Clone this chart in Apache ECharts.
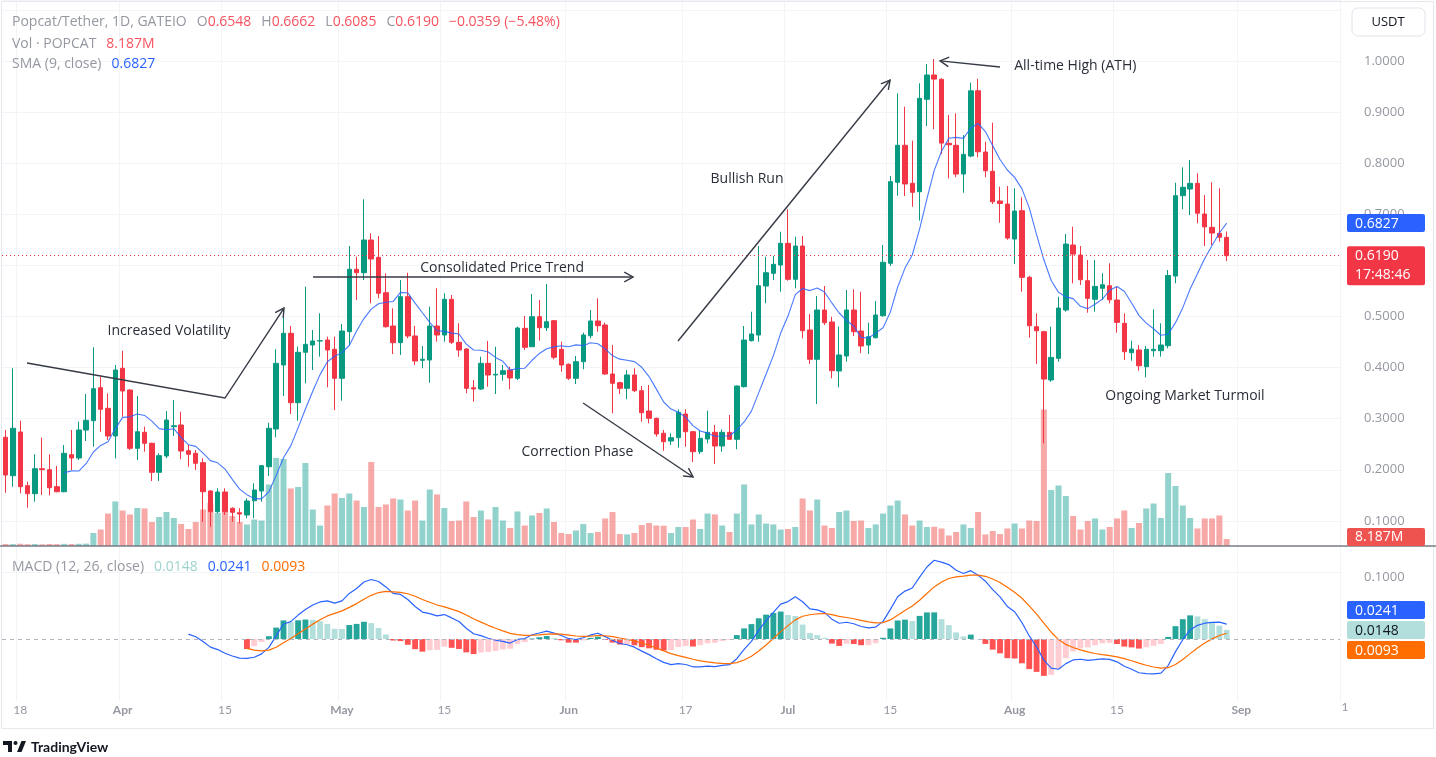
<!DOCTYPE html>
<html>
<head>
<meta charset="utf-8">
<title>Popcat/Tether, 1D, GATEIO</title>
<script src="https://cdn.jsdelivr.net/npm/echarts@6/dist/echarts.min.js"></script>
<style>
html, body { margin: 0; padding: 0; background: #fff; }
#main { width: 1436px; height: 757px; }
</style>
</head>
<body>
<div id="main"></div>
<script>
// daily candles 2024-03-16 .. 2024-08-30
var opens = [
  0.2636, 0.1884, 0.2739, 0.1689, 0.1532, 0.2021, 0.2002, 0.1669, 0.1571, 0.2295,
  0.2231, 0.2778, 0.2960, 0.3606, 0.3203, 0.2661, 0.3986, 0.3561, 0.2420, 0.2733,
  0.2518, 0.1951, 0.2270, 0.2843, 0.2876, 0.2373, 0.2322, 0.2139, 0.1585, 0.1180,
  0.1565, 0.1246, 0.1160, 0.1115, 0.1395, 0.1585, 0.2060, 0.2798, 0.4050, 0.4670,
  0.3313, 0.4299, 0.4441, 0.4520, 0.4539, 0.4357, 0.3790, 0.4702, 0.5923, 0.5856,
  0.6496, 0.6157, 0.5465, 0.4813, 0.4487, 0.5387, 0.4618, 0.4142, 0.4148, 0.4813,
  0.4637, 0.5336, 0.4494, 0.4363, 0.3606, 0.3581, 0.4083, 0.3855, 0.3868, 0.3952,
  0.3790, 0.4768, 0.4408, 0.4995, 0.4780, 0.4917, 0.4357, 0.4064, 0.3790, 0.4115,
  0.4623, 0.4911, 0.4833, 0.3874, 0.3704, 0.3594, 0.3855, 0.3547, 0.3150, 0.3007,
  0.2714, 0.2563, 0.2628, 0.3091, 0.2745, 0.2354, 0.2602, 0.2733, 0.2465, 0.2733,
  0.2596, 0.3626, 0.4526, 0.4637, 0.5596, 0.5844, 0.6007, 0.6431, 0.5727, 0.6378,
  0.4735, 0.4162, 0.5126, 0.4892, 0.3933, 0.4226, 0.5126, 0.4715, 0.4441, 0.4584,
  0.5015, 0.6040, 0.7625, 0.8349, 0.7605, 0.7441, 0.9249, 0.9724, 0.9640, 0.8388,
  0.8349, 0.7787, 0.8139, 0.9417, 0.8218, 0.7840, 0.7259, 0.7200, 0.6515, 0.7069,
  0.5766, 0.4800, 0.4702, 0.3757, 0.4181, 0.5126, 0.6398, 0.6202, 0.5700, 0.5336,
  0.5551, 0.5602, 0.5322, 0.4866, 0.4291, 0.4344, 0.4017, 0.4330, 0.4330, 0.4428,
  0.5791, 0.7363, 0.7494, 0.7605, 0.7005, 0.6744, 0.6627, 0.6548
];
var highs = [
  0.2778, 0.3986, 0.2960, 0.1767, 0.2303, 0.2628, 0.2303, 0.2074, 0.2485, 0.2778,
  0.2941, 0.3483, 0.4396, 0.3821, 0.3496, 0.4050, 0.4330, 0.3575, 0.3444, 0.2843,
  0.2530, 0.2322, 0.3150, 0.3365, 0.3136, 0.2485, 0.2387, 0.2225, 0.1600, 0.1638,
  0.1638, 0.1266, 0.1246, 0.1442, 0.1735, 0.2095, 0.2921, 0.4357, 0.5160, 0.4813,
  0.4408, 0.5582, 0.4735, 0.5062, 0.4604, 0.4604, 0.4852, 0.6378, 0.6169, 0.7292,
  0.6627, 0.6574, 0.5844, 0.5160, 0.5713, 0.5856, 0.4813, 0.4422, 0.5191, 0.5551,
  0.5453, 0.5420, 0.4866, 0.4380, 0.3757, 0.4213, 0.4520, 0.4408, 0.4050, 0.4017,
  0.4800, 0.5009, 0.5439, 0.5322, 0.5635, 0.4930, 0.4506, 0.4080, 0.4226, 0.4682,
  0.5126, 0.5355, 0.4878, 0.4441, 0.3723, 0.3952, 0.3986, 0.3639, 0.3659, 0.3020,
  0.2778, 0.2714, 0.3183, 0.3183, 0.2760, 0.2778, 0.3156, 0.2876, 0.2792, 0.3072,
  0.3650, 0.4813, 0.5093, 0.6378, 0.6169, 0.6183, 0.6658, 0.7096, 0.6560, 0.6574,
  0.5048, 0.5400, 0.5596, 0.4995, 0.4800, 0.5518, 0.5531, 0.5484, 0.4878, 0.5302,
  0.6398, 0.7748, 0.9366, 0.9104, 0.8439, 0.9562, 0.9940, 1.0037, 0.9660, 0.8942,
  0.8975, 0.8550, 0.9574, 0.9652, 0.8419, 0.8791, 0.7539, 0.7552, 0.7508, 0.7331,
  0.5792, 0.5062, 0.4720, 0.4800, 0.5387, 0.6613, 0.6756, 0.6378, 0.6105, 0.6105,
  0.5844, 0.6040, 0.5582, 0.5062, 0.4526, 0.4441, 0.4422, 0.5140, 0.4866, 0.5909,
  0.7617, 0.7918, 0.8061, 0.7801, 0.7376, 0.7625, 0.7508, 0.6662
];
var lows = [
  0.1552, 0.1669, 0.1540, 0.1258, 0.1375, 0.1507, 0.1501, 0.1560, 0.1560, 0.1996,
  0.2191, 0.2563, 0.2452, 0.2745, 0.2583, 0.2225, 0.3039, 0.2387, 0.2191, 0.2354,
  0.1780, 0.1780, 0.2225, 0.2661, 0.2205, 0.2060, 0.1996, 0.0984, 0.0886, 0.1149,
  0.1115, 0.0984, 0.0953, 0.1051, 0.1051, 0.1375, 0.1878, 0.2636, 0.3444, 0.3091,
  0.2960, 0.3692, 0.3952, 0.4213, 0.3614, 0.3170, 0.3352, 0.4441, 0.5322, 0.5713,
  0.5257, 0.5355, 0.4780, 0.4265, 0.4246, 0.4573, 0.4050, 0.3986, 0.3704, 0.4506,
  0.4506, 0.4461, 0.4213, 0.3496, 0.3332, 0.3561, 0.3626, 0.3483, 0.3743, 0.3575,
  0.3757, 0.4344, 0.4408, 0.4526, 0.4715, 0.4160, 0.3919, 0.3757, 0.3678, 0.3966,
  0.4573, 0.4702, 0.3860, 0.3105, 0.3483, 0.3379, 0.3520, 0.2941, 0.2909, 0.2647,
  0.2373, 0.2485, 0.2432, 0.2452, 0.2152, 0.2309, 0.2518, 0.2113, 0.2354, 0.2583,
  0.2401, 0.3610, 0.4510, 0.4506, 0.5257, 0.5713, 0.5484, 0.5700, 0.5551, 0.4573,
  0.4070, 0.3287, 0.4833, 0.3790, 0.3614, 0.4115, 0.4618, 0.4279, 0.4265, 0.4573,
  0.4995, 0.5987, 0.7363, 0.7357, 0.7147, 0.6874, 0.8726, 0.8662, 0.8178, 0.7703,
  0.7723, 0.7421, 0.8114, 0.8114, 0.7723, 0.7200, 0.6834, 0.6500, 0.6026, 0.5484,
  0.4584, 0.4070, 0.2518, 0.3720, 0.4115, 0.5093, 0.5649, 0.5615, 0.5073, 0.5093,
  0.5322, 0.5257, 0.4682, 0.4148, 0.4134, 0.3939, 0.3809, 0.4213, 0.4213, 0.4377,
  0.5649, 0.7096, 0.6985, 0.6823, 0.6378, 0.6398, 0.6463, 0.6085
];
var closes = [
  0.1898, 0.2812, 0.1669, 0.1532, 0.2021, 0.2002, 0.1649, 0.1571, 0.2322, 0.2231,
  0.2778, 0.2968, 0.3586, 0.3183, 0.2661, 0.3952, 0.3541, 0.2420, 0.2745, 0.2518,
  0.1951, 0.2276, 0.2974, 0.2862, 0.2367, 0.2303, 0.2127, 0.1571, 0.1180, 0.1565,
  0.1180, 0.1168, 0.1135, 0.1389, 0.1604, 0.2080, 0.2812, 0.4083, 0.4670, 0.3313,
  0.4299, 0.4455, 0.4520, 0.4526, 0.4344, 0.3790, 0.4715, 0.5923, 0.5856, 0.6496,
  0.6124, 0.5453, 0.4800, 0.4487, 0.5387, 0.4618, 0.4128, 0.4162, 0.4813, 0.4637,
  0.5336, 0.4494, 0.4344, 0.3594, 0.3581, 0.4083, 0.3855, 0.3868, 0.3939, 0.3796,
  0.4774, 0.4396, 0.4995, 0.4780, 0.4897, 0.4201, 0.4050, 0.3790, 0.4115, 0.4637,
  0.4911, 0.4819, 0.3874, 0.3692, 0.3594, 0.3855, 0.3547, 0.3117, 0.3007, 0.2700,
  0.2549, 0.2628, 0.3125, 0.2745, 0.2354, 0.2616, 0.2733, 0.2465, 0.2733, 0.2596,
  0.3639, 0.4539, 0.4657, 0.5602, 0.5856, 0.6020, 0.6431, 0.5727, 0.6378, 0.4721,
  0.4162, 0.5126, 0.4878, 0.3939, 0.4246, 0.5126, 0.4702, 0.4422, 0.4604, 0.5028,
  0.6060, 0.7637, 0.8349, 0.7592, 0.7429, 0.9268, 0.9724, 0.9644, 0.8392, 0.8359,
  0.7786, 0.8171, 0.9415, 0.8222, 0.7850, 0.7244, 0.7212, 0.6533, 0.7062, 0.5765,
  0.4818, 0.4720, 0.3775, 0.4199, 0.5164, 0.6416, 0.6220, 0.5718, 0.5354, 0.5588,
  0.5620, 0.5326, 0.4884, 0.4309, 0.4362, 0.4035, 0.4357, 0.4357, 0.4441, 0.5801,
  0.7363, 0.7527, 0.7605, 0.7020, 0.6752, 0.6632, 0.6549, 0.6190
];
// volume, millions of POPCAT
var volumes = [
  2.4, 2.2, 2.6, 2.1, 2.3, 2.0, 2.4, 2.2, 2.5, 2.3,
  2.6, 2.8, 15.2, 19.3, 38.0, 52.1, 41.5, 36.9, 44.5, 43.9,
  28.1, 33.9, 39.8, 32.8, 25.7, 19.9, 28.1, 42.7, 50.3, 38.6,
  41.0, 35.1, 28.1, 25.2, 31.0, 29.8, 72.0, 103.0, 101.8, 67.3,
  69.0, 97.1, 42.7, 24.0, 47.4, 61.4, 56.2, 61.4, 53.2, 45.6,
  98.3, 45.6, 48.6, 55.6, 54.4, 41.5, 53.2, 29.8, 66.1, 60.3,
  44.5, 29.3, 29.8, 52.1, 33.9, 41.5, 31.0, 45.6, 29.8, 21.1,
  40.4, 24.0, 35.7, 38.6, 43.9, 28.1, 15.2, 14.0, 18.1, 25.7,
  15.2, 16.4, 32.2, 39.8, 14.0, 13.6, 15.2, 24.6, 26.9, 24.0,
  23.7, 15.2, 22.2, 22.2, 31.0, 19.9, 38.0, 36.9, 24.0, 16.4,
  38.0, 72.0, 25.2, 36.9, 26.3, 25.2, 19.3, 19.9, 22.2, 55.6,
  41.5, 54.4, 24.0, 21.1, 39.8, 41.5, 29.3, 29.8, 21.1, 25.2,
  38.0, 47.4, 53.2, 36.9, 24.0, 29.8, 22.2, 22.5, 20.5, 12.3,
  16.4, 25.2, 21.1, 39.8, 13.5, 17.6, 14.0, 20.5, 26.3, 20.5,
  29.8, 29.3, 159.7, 65.5, 70.8, 58.5, 35.1, 19.3, 29.3, 32.2,
  19.3, 22.2, 32.2, 41.5, 21.1, 26.9, 43.9, 49.7, 32.8, 85.4,
  70.2, 47.4, 32.8, 20.5, 32.2, 32.2, 35.7, 8.187
];
// time axis labels (MM-DD -> text)
var timeLabels = {
  '03-18': '18', '04-01': 'Apr', '04-15': '15', '05-01': 'May', '05-15': '15',
  '06-01': 'Jun', '06-17': '17', '07-01': 'Jul', '07-15': '15', '08-01': 'Aug',
  '08-15': '15', '09-01': 'Sep'
};
var monthNames = ['Apr', 'May', 'Jun', 'Jul', 'Aug', 'Sep'];

var UP = '#089981', DOWN = '#F23645';
var FONT = '"Open Sans", Lato, sans-serif';
var AXFONT = 'Lato, "Open Sans", sans-serif';
var GREY = '#9598A1';

// days on the time axis (axis runs on past the last candle)
var days = [];
for (var d = 0; d < 183; d++) {
  days.push(new Date(Date.UTC(2024, 2, 16 + d)).toISOString().slice(0, 10));
}

// indicators as named on the chart: SMA(9, close), MACD(12, 26, close)
function calcSMA(src, n) {
  var out = [];
  for (var i = 0; i < src.length; i++) {
    if (i < n - 1) { out.push('-'); continue; }
    var s = 0;
    for (var j = i - n + 1; j <= i; j++) s += src[j];
    out.push(s / n);
  }
  return out;
}
function calcEMA(src, n) {
  var out = [], k = 2 / (n + 1), prev = null, buf = [];
  for (var i = 0; i < src.length; i++) {
    var v = src[i];
    if (v === '-') { out.push('-'); continue; }
    if (prev === null) {
      buf.push(v);
      if (buf.length < n) { out.push('-'); continue; }
      prev = buf.reduce(function (a, b) { return a + b; }, 0) / n;
    } else {
      prev = v * k + prev * (1 - k);
    }
    out.push(prev);
  }
  return out;
}
var sma9 = calcSMA(closes, 9);
var ema12 = calcEMA(closes, 12), ema26 = calcEMA(closes, 26);
var macd = ema26.map(function (v, i) { return v === '-' ? '-' : ema12[i] - v; });
var signal = calcEMA(macd, 9);
var hist = signal.map(function (v, i) { return v === '-' ? '-' : macd[i] - v; });

var last = closes.length - 1;

var candleData = opens.map(function (o, i) { return [o, closes[i], lows[i], highs[i]]; });
var volData = volumes.map(function (v, i) {
  return { value: v, itemStyle: { color: closes[i] >= opens[i] ? 'rgba(38,166,154,0.5)' : 'rgba(239,83,80,0.5)' } };
});
var histData = hist.map(function (h, i) {
  if (h === '-') return '-';
  var p = hist[i - 1], c;
  if (h >= 0) c = (p === '-' || h > p) ? '#26A69A' : '#B2DFDB';
  else c = (p === '-' || h < p) ? '#FF5252' : '#FFCDD2';
  return { value: h, itemStyle: { color: c } };
});

function isTimeLabel(idx, val) { return timeLabels.hasOwnProperty(val.slice(5)); }

function xAxisFor(g, showLabels) {
  return {
    type: 'category', gridIndex: g, data: days, boundaryGap: true,
    axisLine: { show: false }, axisTick: { show: false },
    splitLine: { show: true, interval: isTimeLabel, lineStyle: { color: '#F3F4F7', width: 1 } },
    axisLabel: {
      show: showLabels, interval: isTimeLabel, margin: 3,
      color: GREY, fontSize: 12, fontFamily: AXFONT,
      formatter: function (v) {
        var s = timeLabels[v.slice(5)] || '';
        return monthNames.indexOf(s) >= 0 ? '{m|' + s + '}' : s;
      },
      rich: { m: { color: GREY, fontSize: 12, fontFamily: AXFONT, fontWeight: 'bold' } }
    }
  };
}

var myChart = echarts.init(document.getElementById('main'));

var option = {
  animation: false,
  backgroundColor: '#ffffff',
  grid: [
    { left: 2, right: 96, top: 0, height: 572, outerBoundsMode: 'none', containLabel: false },
    { left: 2, right: 96, top: 346, height: 200, outerBoundsMode: 'none', containLabel: false },
    { left: 2, right: 96, top: 548, height: 153, outerBoundsMode: 'none', containLabel: false }
  ],
  xAxis: [xAxisFor(0, false), xAxisFor(1, false), xAxisFor(2, true)],
  yAxis: [
    {
      type: 'value', gridIndex: 0, position: 'right', min: 0, max: 1.1192, interval: 0.1,
      axisLine: { show: false }, axisTick: { show: false },
      splitLine: { show: true, lineStyle: { color: '#F3F4F7' } },
      axisLabel: {
        margin: 24, color: GREY, fontSize: 13, fontFamily: FONT,
        formatter: function (v) { return (v > 0.05 && v < 1.05) ? v.toFixed(4) : ''; }
      }
    },
    { type: 'value', gridIndex: 1, min: 0, max: 234, show: false },
    {
      type: 'value', gridIndex: 2, position: 'right', min: -0.1, max: 0.1468, interval: 0.1,
      axisLine: { show: false }, axisTick: { show: false }, splitLine: { show: false },
      axisLabel: {
        margin: 24, color: GREY, fontSize: 13, fontFamily: FONT,
        formatter: function (v) { return Math.abs(v - 0.1) < 1e-6 ? v.toFixed(4) : ''; }
      }
    }
  ],
  series: [
    {
      name: 'Vol', type: 'bar', xAxisIndex: 1, yAxisIndex: 1, data: volData,
      barWidth: '82%', z: 1, silent: true
    },
    {
      name: 'POPCAT', type: 'candlestick', xAxisIndex: 0, yAxisIndex: 0, data: candleData,
      barWidth: '68%', z: 3, silent: true,
      itemStyle: { color: UP, color0: DOWN, borderColor: UP, borderColor0: DOWN, borderWidth: 1 },
      markLine: {
        silent: true, symbol: ['none', 'none'], label: { show: false },
        lineStyle: { color: DOWN, type: [1, 3], width: 1 },
        data: [{ yAxis: closes[last] }]
      }
    },
    {
      name: 'SMA 9', type: 'line', xAxisIndex: 0, yAxisIndex: 0, data: sma9,
      showSymbol: false, z: 4, silent: true,
      lineStyle: { color: '#2962FF', width: 1.1, opacity: 0.85 }
    },
    {
      name: 'Histogram', type: 'bar', xAxisIndex: 2, yAxisIndex: 2, data: histData,
      barWidth: '80%', z: 2, silent: true,
      markLine: {
        silent: true, symbol: ['none', 'none'], label: { show: false },
        lineStyle: { color: '#B2B5BE', type: [4, 4], width: 1 },
        data: [{ yAxis: 0 }]
      }
    },
    {
      name: 'MACD', type: 'line', xAxisIndex: 2, yAxisIndex: 2, data: macd,
      showSymbol: false, z: 4, silent: true, lineStyle: { color: '#2962FF', width: 1.2 }
    },
    {
      name: 'Signal', type: 'line', xAxisIndex: 2, yAxisIndex: 2, data: signal,
      showSymbol: false, z: 4, silent: true, lineStyle: { color: '#FF6D00', width: 1.2 }
    }
  ]
};
myChart.setOption(option);

// ---------- overlays: legends, price tags, drawings ----------
var meas = document.createElement('canvas').getContext('2d');
function textRow(x, y, parts, size) {
  var font = (size || 14) + 'px ' + FONT, els = [];
  parts.forEach(function (p) {
    x += p[2] || 0;
    els.push({ type: 'text', x: x, y: y, z: 50, silent: true,
      style: { text: p[0], fill: p[1], font: font, textVerticalAlign: 'middle' } });
    meas.font = font;
    x += meas.measureText(p[0]).width;
  });
  return els;
}
function f4(v) { return v.toFixed(4); }
function signed(v) { return (v < 0 ? '\u2212' : '+') + Math.abs(v).toFixed(4); }

function toPx(g, idx, val) { return myChart.convertToPixel({ gridIndex: g }, [idx, val]); }
function dataPt(g, idx, val) {
  var a = toPx(g, 0, val), b = toPx(g, 1, val);
  return [a[0] + idx * (b[0] - a[0]), a[1]];
}

var RED_TXT = '#F7525F';
var chg = closes[last] - closes[last - 1];
var pct = chg / closes[last - 1] * 100;
var g = [];
g = g.concat(textRow(12, 22, [
  ['Popcat/Tether, 1D, GATEIO', GREY],
  ['O', GREY, 10], [f4(opens[last]), RED_TXT, 0],
  ['H', GREY, 10], [f4(highs[last]), RED_TXT, 0],
  ['L', GREY, 10], [f4(lows[last]), RED_TXT, 0],
  ['C', GREY, 10], [f4(closes[last]), RED_TXT, 0],
  [signed(chg) + ' (' + (pct < 0 ? '\u2212' : '+') + Math.abs(pct).toFixed(2) + '%)', RED_TXT, 10]
]));
g = g.concat(textRow(12, 44, [['Vol \u00b7 POPCAT', GREY], [volumes[last].toFixed(3) + 'M', RED_TXT, 10]]));
g = g.concat(textRow(12, 64, [['SMA (9, close)', GREY], [f4(sma9[last]), '#2962FF', 10]]));
g = g.concat(textRow(12, 567, [
  ['MACD (12, 26, close)', GREY],
  [f4(hist[last]), '#9ED3CD', 10], [f4(macd[last]), '#2962FF', 10], [f4(signal[last]), '#FF6D00', 10]
]));

// right scale tags
function tag(yC, h, bg, fg, lines) {
  var els = [{ type: 'rect', z: 60, silent: true, shape: { x: 1347, y: yC - h / 2, width: 78, height: h, r: 2 }, style: { fill: bg } }];
  lines.forEach(function (t, k) {
    els.push({ type: 'text', x: 1355, y: yC - h / 2 + 9.5 + k * 19, z: 61, silent: true,
      style: { text: t, fill: fg, font: '14px ' + FONT, textVerticalAlign: 'middle' } });
  });
  return els;
}
var ySma = toPx(0, last, sma9[last])[1];
var yClose = toPx(0, last, closes[last])[1];
g = g.concat(tag(ySma, 18, '#2962FF', '#fff', [f4(sma9[last])]));
g = g.concat(tag(yClose + 10, 39, DOWN, '#fff', [f4(closes[last]), '17:48:46']));
var volBottom = toPx(1, last, 0)[1];
var yVol = Math.min(toPx(1, last, volumes[last])[1], volBottom - 9);
g = g.concat(tag(yVol, 18, '#EF5350', '#fff', [volumes[last].toFixed(3) + 'M']));

// MACD tags spread apart like the price scale does
var macdTags = [
  { v: macd[last], bg: '#2962FF', fg: '#fff' },
  { v: hist[last], bg: '#B2DFDB', fg: '#131722' },
  { v: signal[last], bg: '#FF6D00', fg: '#fff' }
];
macdTags.forEach(function (t) { t.y = toPx(2, last, t.v)[1]; });
macdTags.sort(function (a, b) { return a.y - b.y; });
var meanY = macdTags.reduce(function (s, t) { return s + t.y; }, 0) / 3;
macdTags.forEach(function (t, k) {
  g = g.concat(tag(meanY + 1 + (k - 1) * 20, 18, t.bg, t.fg, [f4(t.v)]));
});

// pane separator
g.push({ type: 'line', z: 40, silent: true, shape: { x1: 0, y1: volBottom, x2: 1436, y2: volBottom },
  style: { stroke: '#787B86', lineWidth: 1.5 } });

// chart drawings, anchored in (bar index, price)
var drawings = [
  [[2.92, 0.4090], [30.0, 0.3404], [38.07, 0.5165]],
  [[42.04, 0.5772], [85.81, 0.5772]],
  [[78.97, 0.3307], [94.02, 0.1859]],
  [[91.96, 0.4520], [120.97, 0.9626]],
  [[136.0, 0.9881], [127.8, 1.0000]]
];
var notes = [
  ['Increased Volatility', 22.35, 0.4715],
  ['Consolidated Price Trend', 67.9, 0.5948],
  ['Correction Phase', 78.2, 0.2348],
  ['Bullish Run', 101.4, 0.7689],
  ['All-time High (ATH)', 146.3, 0.9900],
  ['Ongoing Market Turmoil', 161.3, 0.3444]
];
var INK = '#363A45';
drawings.forEach(function (pts) {
  var pp = pts.map(function (p) { return dataPt(0, p[0], p[1]); });
  g.push({ type: 'polyline', z: 45, silent: true, shape: { points: pp }, style: { stroke: INK, lineWidth: 1.4, fill: null } });
  var a = pp[pp.length - 2], b = pp[pp.length - 1];
  var ang = Math.atan2(b[1] - a[1], b[0] - a[0]), L = 10;
  g.push({ type: 'polyline', z: 45, silent: true, shape: { points: [
    [b[0] - L * Math.cos(ang - 0.5), b[1] - L * Math.sin(ang - 0.5)], b,
    [b[0] - L * Math.cos(ang + 0.5), b[1] - L * Math.sin(ang + 0.5)]
  ] }, style: { stroke: INK, lineWidth: 1.4, fill: null } });
});
notes.forEach(function (n) {
  var p = dataPt(0, n[1], n[2]);
  g.push({ type: 'text', x: p[0], y: p[1], z: 46, silent: true,
    style: { text: n[0], fill: '#2A2E39', font: '14px ' + FONT, textAlign: 'center', textVerticalAlign: 'middle' } });
});

// clipped "16" label at the right edge of the time scale
g.push({ type: 'text', x: 1345, y: 707, z: 50, silent: true,
  style: { text: '1', fill: GREY, font: '12px ' + AXFONT, textAlign: 'center', textVerticalAlign: 'middle' } });

// currency button
g.push({ type: 'rect', z: 50, silent: true, shape: { x: 1352, y: 8, width: 73, height: 28, r: 6 },
  style: { fill: '#fff', stroke: '#E0E3EB', lineWidth: 1 } });
g.push({ type: 'text', x: 1388, y: 22, z: 51, silent: true,
  style: { text: 'USDT', fill: '#131722', font: '13px ' + FONT, textAlign: 'center', textVerticalAlign: 'middle' } });

// widget frame
g.push({ type: 'rect', z: 39, silent: true, shape: { x: 1.5, y: 1.5, width: 1432, height: 727 },
  style: { fill: null, stroke: '#E6E8EE', lineWidth: 1 } });

// TradingView mark
g.push({ type: 'rect', z: 50, silent: true, shape: { x: 3, y: 741, width: 9, height: 4 }, style: { fill: '#131722' } });
g.push({ type: 'rect', z: 50, silent: true, shape: { x: 8, y: 741, width: 4, height: 11 }, style: { fill: '#131722' } });
g.push({ type: 'circle', z: 50, silent: true, shape: { cx: 15.5, cy: 743, r: 2 }, style: { fill: '#131722' } });
g.push({ type: 'polygon', z: 50, silent: true, shape: { points: [[17, 752], [21.5, 741], [26, 741], [21.5, 752]] }, style: { fill: '#131722' } });
g.push({ type: 'text', x: 31, y: 747, z: 50, silent: true,
  style: { text: 'TradingView', fill: '#131722', font: 'bold 14px ' + AXFONT, textVerticalAlign: 'middle' } });

myChart.setOption({ graphic: { elements: g } });

window.addEventListener('resize', function () { myChart.resize(); });
</script>
</body>
</html>
